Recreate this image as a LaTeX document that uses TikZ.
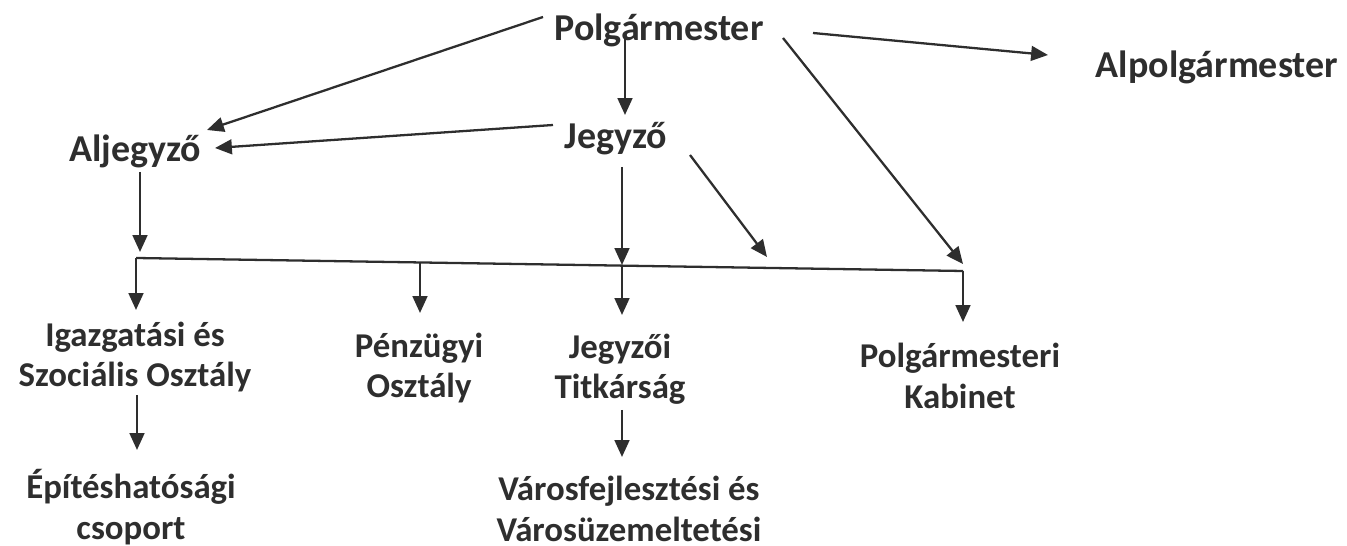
\documentclass[tikz,border=0pt]{standalone}
\usepackage{fontspec}
\setmainfont{Carlito}
\usepackage{tikz}
\usetikzlibrary{arrows.meta}
\definecolor{ink}{HTML}{2E2E2E}
\tikzset{
  head/.style={text=ink,inner sep=0pt,font=\bfseries\fontsize{10.8}{12}\selectfont},
  unit/.style={text=ink,inner sep=0pt,align=center,font=\bfseries\fontsize{9.9}{11.5}\selectfont},
  link/.style={draw=ink,line width=0.65pt,-{Triangle[length=4.8pt,width=4.2pt]}},
  bar/.style={draw=ink,line width=0.65pt}
}

\begin{document}
\begin{tikzpicture}[x=0.01cm,y=-0.01cm]
                      \useasboundingbox (0,0) rectangle (1347,546);
                      \node[head] (polg) at (659,30) {Polgármester};
                      \node[head] (alpolg) at (1217,67) {Alpolgármester};
                      \node[head] (jegyzo) at (616,139) {Jegyző};
                      \node[head] (aljegyzo) at (135,151) {Aljegyző};
                      \node[unit] (igazg) at (135,357) {Igazgatási és\\Szociális Osztály};
                      \node[unit] (penz) at (419,368) {Pénzügyi\\Osztály};
                      \node[unit] (titk) at (620,369) {Jegyzői\\Titkárság};
                      \node[unit] (kabinet) at (960,376) {Polgármesteri\\Kabinet};
                      \node[unit] (epit) at (131,507) {Építéshatósági\\csoport};
                      \node[unit] (varos) at (629,509) {Városfejlesztési és\\Városüzemeltetési};
                      \coordinate (barL) at (136,258);
                      \coordinate (barP) at (420,262);
                      \coordinate (barJ) at (622,265);
                      \coordinate (barR) at (963,271);
                      \coordinate (jdiag) at (767,257);
                      \draw[link] ([shift={(-116,-13)}]polg.center) -- ([shift={(72,-21)}]aljegyzo.center);
                      \draw[link] ([shift={(-34,7)}]polg.center) -- ([shift={(9,-24)}]jegyzo.center);
                      \draw[link] ([shift={(154,3)}]polg.center) -- ([shift={(-169,-12)}]alpolg.center);
                      \draw[link] ([shift={(124,8)}]polg.center) -- ([shift={(0,-7)}]barR);
                      \draw[link] ([shift={(-63,-14)}]jegyzo.center) -- ([shift={(80,-3)}]aljegyzo.center);
                      \draw[link] ([shift={(74,16)}]jegyzo.center) -- (jdiag);
                      \draw[link] ([shift={(6,28)}]jegyzo.center) -- (barJ);
                      \draw[link] ([shift={(5,21)}]aljegyzo.center) -- ([shift={(4,-6)}]barL);
                      \draw[bar] (barL) -- (barR);
                      \draw[link] (barL) -- ([shift={(1,-47)}]igazg.center);
                      \draw[link] (barP) -- ([shift={(1,-55)}]penz.center);
                      \draw[link] (barJ) -- ([shift={(2,-54)}]titk.center);
                      \draw[link] (barR) -- ([shift={(3,-54)}]kabinet.center);
                      \draw[link] ([shift={(2,38)}]igazg.center) -- ([shift={(6,-57)}]epit.center);
                      \draw[link] ([shift={(2,41)}]titk.center) -- ([shift={(-7,-52)}]varos.center);
\end{tikzpicture}
\end{document}
